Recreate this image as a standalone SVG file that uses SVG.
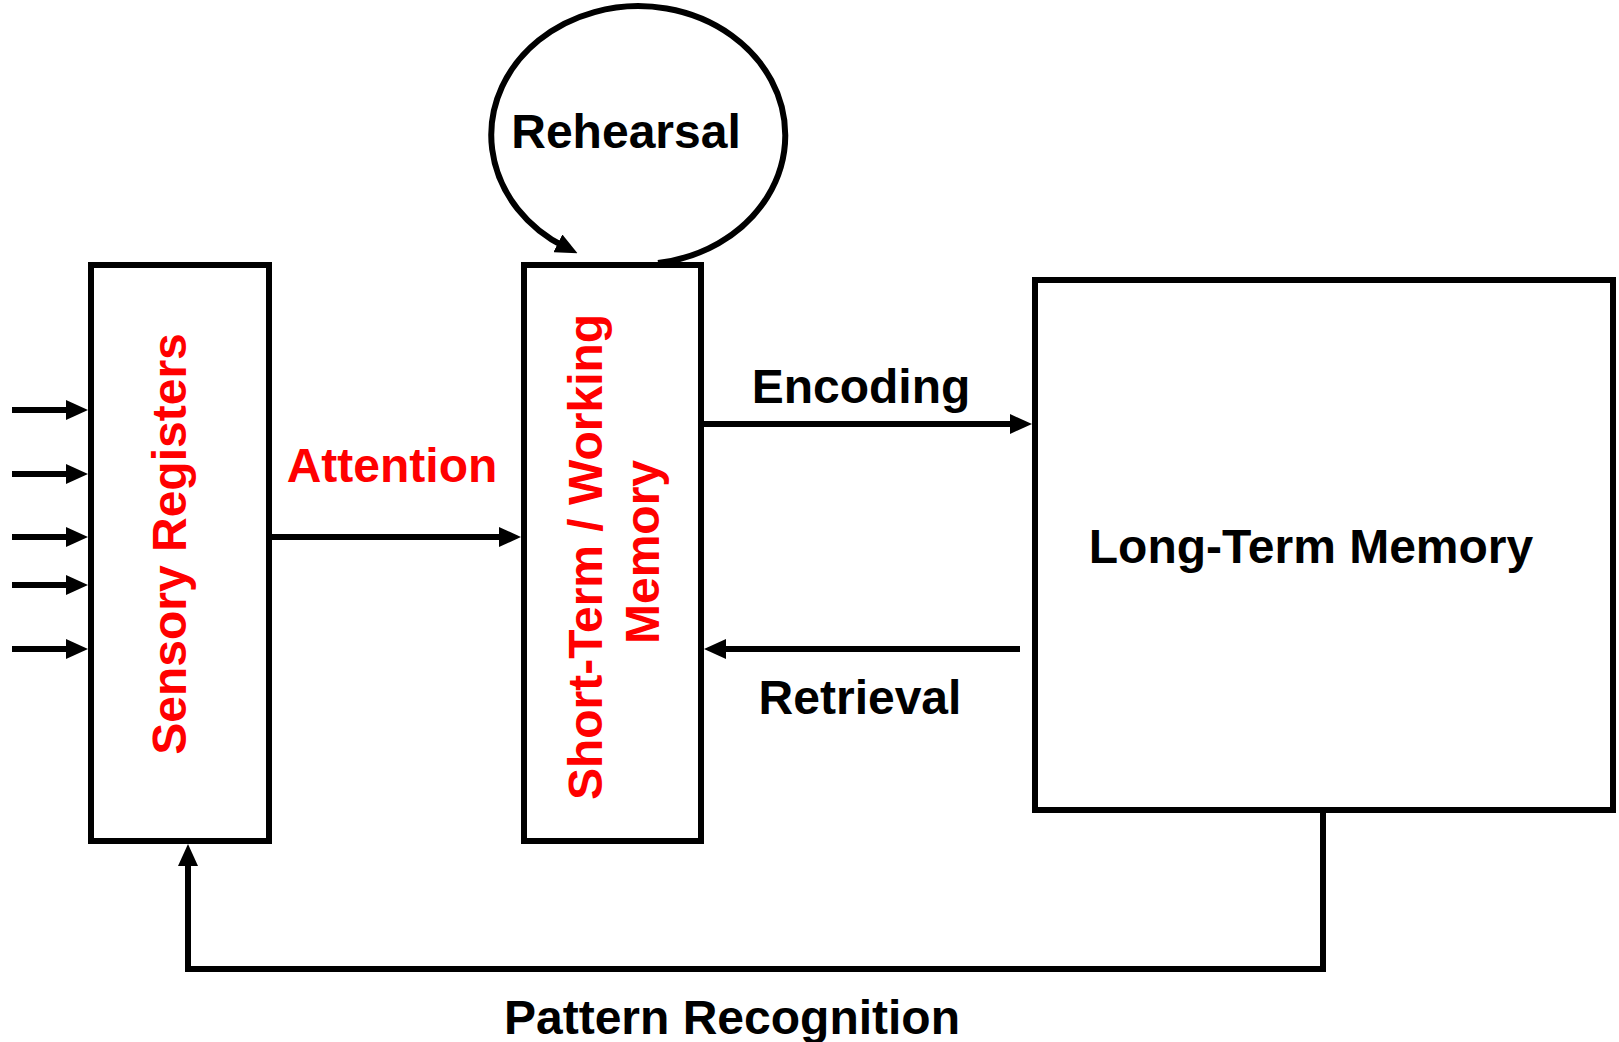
<svg xmlns="http://www.w3.org/2000/svg" width="1619" height="1042" viewBox="0 0 1619 1042">
<style>
.box{fill:#fff;stroke:#000;stroke-width:6}
.ln{fill:none;stroke:#000;stroke-width:6}
.t{font-family:"Liberation Sans",Arial,sans-serif;font-weight:bold;font-size:48px;text-anchor:middle}
.k{fill:#000}
.r{fill:#ff0000}
</style>
<defs>
<marker id="ah" markerUnits="userSpaceOnUse" markerWidth="22" markerHeight="20" refX="8" refY="10" orient="auto">
<path d="M0,0 L22,10 L0,20 z" fill="#000"/>
</marker>
</defs>
<rect width="1619" height="1042" fill="#fff"/>
<g id="sensory">
<rect class="box" x="91" y="265" width="178" height="576"/>
<text class="t r" transform="translate(186,544) rotate(-90)">Sensory Registers</text>
</g>
<g id="stm">
<rect class="box" x="524" y="265" width="177" height="576"/>
<text class="t r" transform="translate(602,557) rotate(-90)">Short-Term / Working</text>
<text class="t r" transform="translate(659,552) rotate(-90)">Memory</text>
</g>
<g id="ltm">
<rect class="box" x="1035" y="280" width="578" height="530"/>
<text class="t k" x="1311" y="563">Long-Term Memory</text>
</g>
<g id="connectors">
<line class="ln" x1="12" y1="410" x2="74" y2="410" marker-end="url(#ah)"/>
<line class="ln" x1="12" y1="474" x2="74" y2="474" marker-end="url(#ah)"/>
<line class="ln" x1="12" y1="537" x2="74" y2="537" marker-end="url(#ah)"/>
<line class="ln" x1="12" y1="585" x2="74" y2="585" marker-end="url(#ah)"/>
<line class="ln" x1="12" y1="649" x2="74" y2="649" marker-end="url(#ah)"/>
<line class="ln" x1="269" y1="537" x2="507" y2="537" marker-end="url(#ah)"/>
<line class="ln" x1="701" y1="424" x2="1018" y2="424" marker-end="url(#ah)"/>
<line class="ln" x1="1020" y1="649" x2="718" y2="649" marker-end="url(#ah)"/>
<path class="ln" d="M1323,810 V969 H188 V858" marker-end="url(#ah)"/>
<path class="ln" d="M658,263 A147,129 0 1 0 565,247" marker-end="url(#ah)"/>
</g>
<g id="labels">
<text class="t r" x="392" y="482">Attention</text>
<text class="t k" x="861" y="403">Encoding</text>
<text class="t k" x="860" y="714">Retrieval</text>
<text class="t k" x="626" y="148">Rehearsal</text>
<text class="t k" x="732" y="1034">Pattern Recognition</text>
</g>
</svg>
